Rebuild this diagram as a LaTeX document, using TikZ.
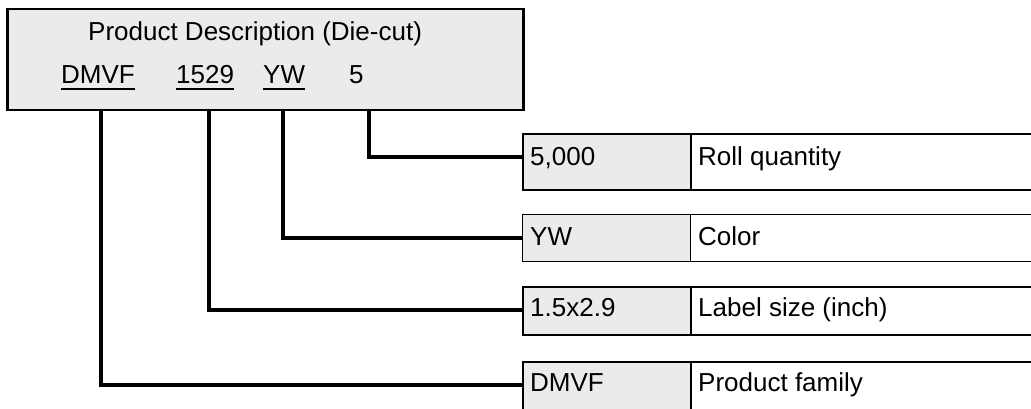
\documentclass[tikz,border=0pt]{standalone}
\usepackage{fontspec}
\setmainfont{Liberation Sans}
\definecolor{cellgray}{HTML}{EBEBEB}
\begin{document}
\begin{tikzpicture}[x=1pt,y=-1pt,
  txt/.style={font=\fontsize{26}{30}\selectfont, inner sep=0pt, anchor=base west},
  descbox/.style={draw, line width=2.5pt, fill=cellgray, anchor=north west, inner sep=0pt},
  cellL/.style={draw, line width=2pt, fill=cellgray, anchor=north west, inner sep=0pt, minimum width=168pt},
  cellR/.style={draw, line width=2pt, fill=white, anchor=north west, inner sep=0pt, minimum width=343pt},
  thin/.style={line width=1.3pt},
  conn/.style={draw, line width=4pt, line join=miter},
  uline/.style={line width=1.5pt}
]
\useasboundingbox (0,0) rectangle (1031,408);
% top box
\node[descbox, minimum width=516pt, minimum height=101pt] (desc) at (6,7.5) {};
\node[txt] (title) at (88,40) {Product Description (Die-cut)};
\node[txt] (c1) at (61,83) {DMVF};
\node[txt] (c2) at (176,83) {1529};
\node[txt] (c3) at (263,83) {YW};
\node[txt] (c4) at (349,83) {5};
\foreach \n in {c1,c2,c3}
  \draw[uline] ([yshift=-6pt]\n.base west) -- ([yshift=-6pt]\n.base east);
% connector start points
\coordinate (s1) at (101,108.5);
\coordinate (s2) at (209,108.5);
\coordinate (s3) at (283,108.5);
\coordinate (s4) at (369,108.5);
% table cells
\node[cellL, minimum height=56pt] (r1a) at (522,133) {};
\node[cellR, minimum height=56pt] (r1b) at (690,133) {};
\node[cellL, thin, minimum height=47pt] (r2a) at (522,214) {};
\node[cellR, thin, minimum height=47pt] (r2b) at (690,214) {};
\node[cellL, minimum height=48pt] (r3a) at (522,286) {};
\node[cellR, minimum height=48pt] (r3b) at (690,286) {};
\node[cellL, minimum height=48pt] (r4a) at (522,361) {};
\node[cellR, minimum height=48pt] (r4b) at (690,361) {};
% connectors
\draw[conn] (s4) |- ([yshift=5pt]r1a.west);
\draw[conn] (s3) |- (r2a.west);
\draw[conn] (s2) |- ([yshift=1pt]r3a.west);
\draw[conn] (s1) |- ([yshift=1pt]r4a.west);
% table text
\node[txt] (t1a) at (530,165) {5,000};
\node[txt] (t1b) at (698,165) {Roll quantity};
\node[txt] (t2a) at (530,245) {YW};
\node[txt] (t2b) at (698,245) {Color};
\node[txt] (t3a) at (530,316) {1.5x2.9};
\node[txt] (t3b) at (698,316) {Label size (inch)};
\node[txt] (t4a) at (530,391.5) {DMVF};
\node[txt] (t4b) at (698,391.5) {Product family};
\end{tikzpicture}
\end{document}
